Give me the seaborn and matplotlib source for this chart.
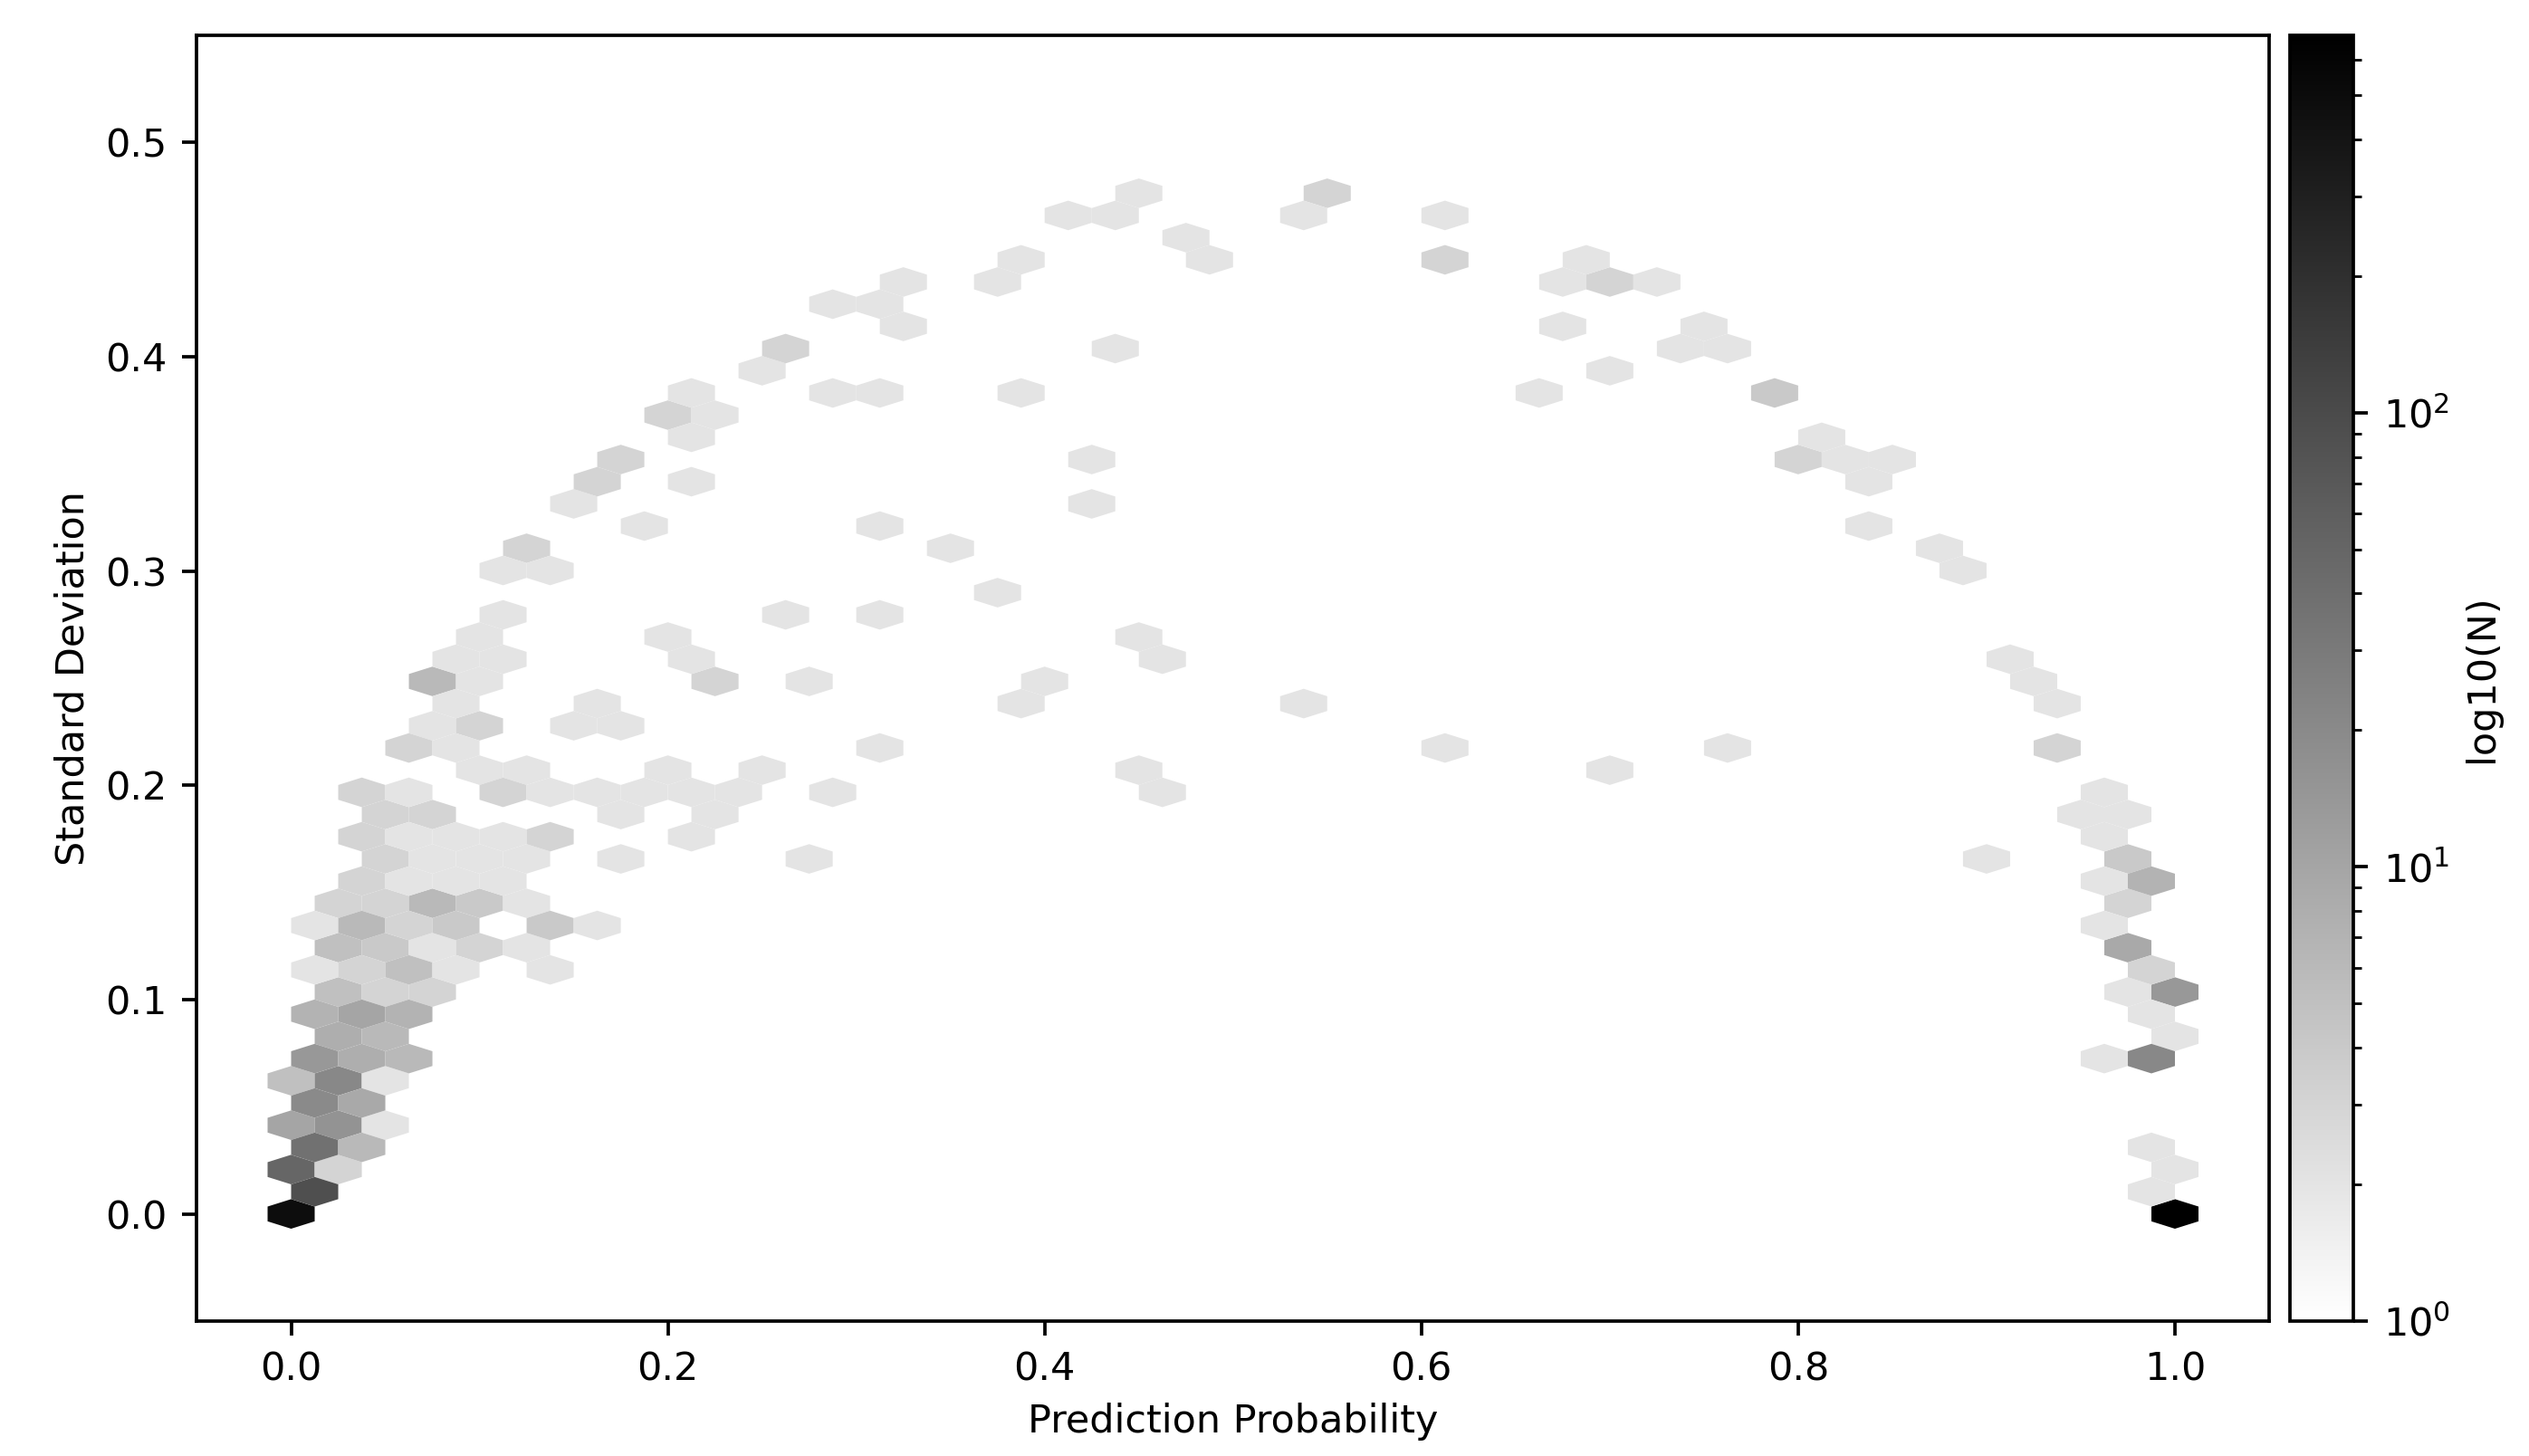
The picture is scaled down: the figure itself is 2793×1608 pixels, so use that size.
import matplotlib
matplotlib.use("Agg")
import matplotlib.pyplot as plt
from matplotlib.colors import LogNorm
import numpy as np
import pandas as pd
import seaborn as sns

# hexagon centres, one source line per row of hexagons
prob = [
    0, 1.0,
    .0125, .9875,
    0, .025, 1.0,
    .0125, .0375, .9875,
    0, .025, .05,
    .0125, .0375,
    0, .025, .05,
    .0125, .0375, .0625, .9625, .9875,
    .025, .05, 1.0,
    .0125, .0375, .0625, .9875,
    .025, .05, .075, .975, 1.0,
    .0125, .0375, .0625, .0875, .1375, .9875,
    .025, .05, .075, .1, .125, .975,
    .0125, .0375, .0625, .0875, .1375, .1625, .9625,
    .025, .05, .075, .1, .125, .975,
    .0375, .0625, .0875, .1125, .9625, .9875,
    .05, .075, .1, .125, .175, .275, .9, .975,
    .0375, .0625, .0875, .1125, .1375, .2125, .9625,
    .05, .075, .175, .225, .95, .975,
    .0375, .0625, .1125, .1375, .1625, .1875, .2125, .2375, .2875, .4625, .9625,
    .1, .125, .2, .25, .45, .7,
    .0625, .0875, .3125, .6125, .7625, .9375,
    .075, .1, .15, .175,
    .0875, .1625, .3875, .5375, .9375,
    .075, .1, .225, .275, .4, .925,
    .0875, .1125, .2125, .4625, .9125,
    .1, .2, .45,
    .1125, .2625, .3125,
    .375,
    .1125, .1375, .8875,
    .125, .35, .875,
    .1875, .3125, .8375,
    .15, .425,
    .1625, .2125, .8375,
    .175, .425, .8, .825, .85,
    .2125, .8125,
    .2, .225,
    .2125, .2875, .3125, .3875, .6625, .7875,
    .25, .7,
    .2625, .4375, .7375, .7625,
    .325, .675, .75,
    .2875, .3125,
    .325, .375, .675, .7, .725,
    .3875, .4875, .6125, .6875,
    .475,
    .4125, .4375, .5375, .6125,
    .45, .55,
]
std = [
    0, 0,
    .0104, .0104,
    .0207, .0207, .0207,
    .0311, .0311, .0311,
    .0414, .0414, .0414,
    .0518, .0518,
    .0621, .0621, .0621,
    .0725, .0725, .0725, .0725, .0725,
    .0828, .0828, .0828,
    .0932, .0932, .0932, .0932,
    .1036, .1036, .1036, .1036, .1036,
    .1139, .1139, .1139, .1139, .1139, .1139,
    .1243, .1243, .1243, .1243, .1243, .1243,
    .1346, .1346, .1346, .1346, .1346, .1346, .1346,
    .1450, .1450, .1450, .1450, .1450, .1450,
    .1553, .1553, .1553, .1553, .1553, .1553,
    .1657, .1657, .1657, .1657, .1657, .1657, .1657, .1657,
    .1760, .1760, .1760, .1760, .1760, .1760, .1760,
    .1864, .1864, .1864, .1864, .1864, .1864,
    .1967, .1967, .1967, .1967, .1967, .1967, .1967, .1967, .1967, .1967, .1967,
    .2071, .2071, .2071, .2071, .2071, .2071,
    .2175, .2175, .2175, .2175, .2175, .2175,
    .2278, .2278, .2278, .2278,
    .2382, .2382, .2382, .2382, .2382,
    .2485, .2485, .2485, .2485, .2485, .2485,
    .2589, .2589, .2589, .2589, .2589,
    .2692, .2692, .2692,
    .2796, .2796, .2796,
    .2899,
    .3003, .3003, .3003,
    .3107, .3107, .3107,
    .3210, .3210, .3210,
    .3314, .3314,
    .3417, .3417, .3417,
    .3521, .3521, .3521, .3521, .3521,
    .3624, .3624,
    .3728, .3728,
    .3831, .3831, .3831, .3831, .3831, .3831,
    .3935, .3935,
    .4038, .4038, .4038, .4038,
    .4142, .4142, .4142,
    .4246, .4246,
    .4349, .4349, .4349, .4349, .4349,
    .4453, .4453, .4453, .4453,
    .4556,
    .4660, .4660, .4660, .4660,
    .4763, .4763,
]
# colour value of each hexagon (as the colour bar reads it)
count = [
    480, 678,
    90, 2,
    50, 3, 2,
    38, 6, 2,
    10, 16, 2,
    20, 9,
    5, 21, 2,
    14, 8, 6, 2, 21,
    8, 6, 2,
    7, 10, 7, 2,
    5, 3, 3, 2, 14,
    2, 3, 5, 2, 2, 3,
    5, 4, 2, 3, 2, 9,
    2, 6, 3, 4, 4, 2, 2,
    3, 3, 6, 4, 2, 3,
    3, 2, 2, 2, 2, 7,
    3, 2, 2, 2, 2, 2, 2, 4,
    3, 2, 2, 2, 3, 2, 2,
    3, 3, 2, 2, 2, 2,
    3, 2, 3, 2, 2, 2, 2, 2, 2, 2, 2,
    2, 2, 2, 2, 2, 2,
    3, 2, 2, 2, 2, 3,
    2, 3, 2, 2,
    2, 2, 2, 2, 2,
    6, 2, 3, 2, 2, 2,
    2, 2, 2, 2, 2,
    2, 2, 2,
    2, 2, 2,
    2,
    2, 2, 2,
    3, 2, 2,
    2, 2, 2,
    2, 2,
    3, 2, 2,
    3, 2, 3, 2, 2,
    2, 2,
    3, 2,
    2, 2, 2, 2, 2, 4,
    2, 2,
    3, 2, 2, 2,
    2, 2, 2,
    2, 2,
    2, 2, 2, 3, 2,
    2, 2, 3, 2,
    2,
    2, 2, 2, 2,
    2, 3,
]
x_ticks = [0.0, 0.2, 0.4, 0.6, 0.8, 1.0]
y_ticks = [0.0, 0.1, 0.2, 0.3, 0.4, 0.5]

sns.set_theme(style="ticks", context="notebook", rc={
    "font.family": "DejaVu Sans", "font.size": 9.2,
    "axes.labelsize": 9.2, "xtick.labelsize": 9.2, "ytick.labelsize": 9.2,
    "axes.linewidth": 0.8, "axes.edgecolor": "black", "text.color": "black",
    "axes.labelcolor": "black", "xtick.color": "black", "ytick.color": "black",
    "xtick.major.size": 3.5, "ytick.major.size": 3.5,
    "xtick.major.width": 0.8, "ytick.major.width": 0.8,
    "ytick.minor.size": 2, "ytick.minor.width": 0.6,
})

df = pd.DataFrame({"prob": prob, "std": std, "count": count})

W, H = 2793, 1608
fig = plt.figure(figsize=(W / 336, H / 336), dpi=336)
ax = fig.add_axes([217.5 / W, 1 - 1459 / H, (2506 - 217.5) / W, (1459 - 39) / H])
cax = fig.add_axes([2529 / W, 1 - 1459 / H, (2599 - 2529) / W, (1459 - 39) / H])

hb = ax.hexbin(df["prob"], df["std"], C=df["count"], reduce_C_function=np.sum,
               gridsize=(40, 23), extent=(0, 1, 0, 0.4763),
               cmap=sns.color_palette("binary", as_cmap=True),
               norm=LogNorm(vmin=1, vmax=678), edgecolors="none", linewidths=0)
ax.set_xlim(-0.05, 1.05)
ax.set_ylim(-0.05, 0.55)
ax.set_xticks(x_ticks)
ax.set_yticks(y_ticks)
ax.set_xlabel("Prediction Probability", labelpad=3.2)
ax.set_ylabel("Standard Deviation", labelpad=3.2)

cb = fig.colorbar(hb, cax=cax)
cb.set_label("log10(N)", labelpad=3)

fig.savefig("out.png", dpi=336)
